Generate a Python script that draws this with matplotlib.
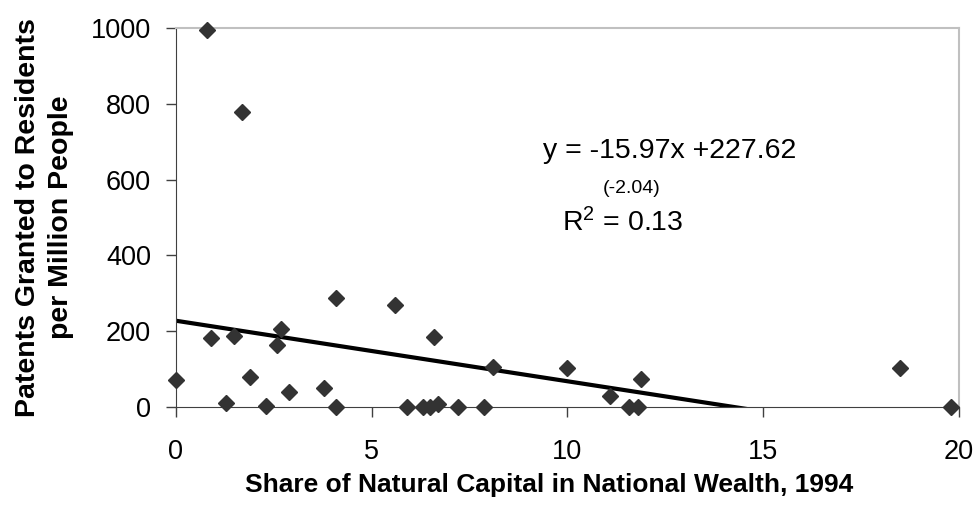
import matplotlib.pyplot as plt
import numpy as np

plt.rcParams['font.family'] = ['Liberation Sans', 'DejaVu Sans']

# natural capital share (%) and patents per million people
share = [0.0, 0.78, 1.68, 0.89, 1.49, 1.89, 1.29, 2.29, 2.69, 2.58,
         2.88, 3.78, 4.08, 4.10, 5.59, 6.58, 5.89, 6.30, 6.50, 6.69,
         7.20, 7.88, 8.10, 9.98, 11.09, 11.58, 11.81, 11.88, 18.49, 19.80]
patents = [71, 996, 779, 181, 187, 80, 11, 3, 205, 164,
           40, 51, 288, 1, 269, 185, 0, 0, 0, 7,
           0, 0, 105, 102, 29, 1, 1, 74, 102, 1]

slope, intercept = -15.97, 227.62

fig = plt.figure(figsize=(9.76, 5.11), dpi=100)
ax = fig.add_axes([0.1803, 0.2035, 0.8023, 0.7417])

xs = np.array([0, 20])
ax.plot(xs, slope * xs + intercept, color='black', lw=3, zorder=2)
ax.plot(share, patents, 'D', color='#333333', ms=8, mec='#333333', zorder=3,
        clip_on=False)

ax.set_xlim(0, 20)
ax.set_ylim(0, 1000)
ax.set_xticks([0, 5, 10, 15, 20])
ax.set_yticks([0, 200, 400, 600, 800, 1000])
ax.tick_params(direction='out', length=7, width=1, labelsize=19.5, color='#404040')
ax.tick_params(axis='x', pad=16)
ax.tick_params(axis='y', pad=11)

for s in ['left', 'bottom']:
    ax.spines[s].set_color('#404040')
for s in ['top', 'right']:
    ax.spines[s].set_color('#c0c0c0')
    ax.spines[s].set_linewidth(1.5)

fig.text(0.5625, 0.0372, 'Share of Natural Capital in National Wealth, 1994',
         fontsize=19, fontweight='bold', ha='center', va='baseline')
fig.text(0.0455, 0.575, 'Patents Granted to Residents\nper Million People',
         fontsize=20.5, fontweight='bold', rotation=90, ha='center',
         va='center', multialignment='center', linespacing=1.38)

ax.text(0.630, 0.657, 'y = -15.97x +227.62', transform=ax.transAxes,
        fontsize=20.5, ha='center', va='baseline')
ax.text(0.582, 0.565, '(-2.04)', transform=ax.transAxes,
        fontsize=14, ha='center', va='baseline')
ax.text(0.570, 0.4625, '$\\mathregular{R^2}$ = 0.13', transform=ax.transAxes,
        fontsize=20.5, ha='center', va='baseline')

fig.savefig('out.png', dpi=100)
